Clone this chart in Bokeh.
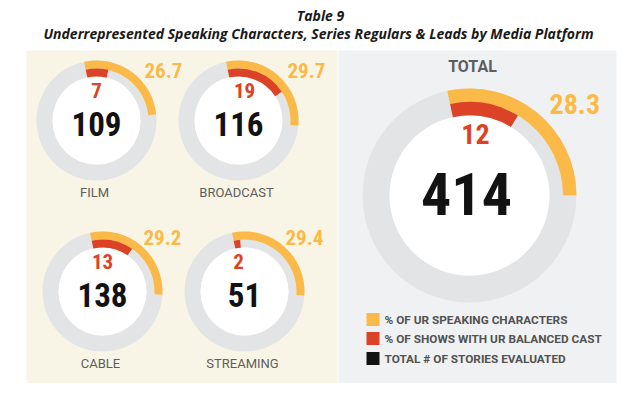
from bokeh.plotting import figure
from bokeh.models import Range1d
from bokeh.core.properties import value
from bokeh.embed import file_html
from bokeh.resources import INLINE

# ---- data ----
platforms = ["FILM", "BROADCAST", "CABLE", "STREAMING"]
speaking_pct = [26.7, 29.7, 29.2, 29.4]
balanced_pct = [7, 19, 13, 2]
stories = [109, 116, 138, 51]
total_label = "TOTAL"
total_speaking = 28.3
total_balanced = 12
total_stories = 414
legend_labels = ["% OF UR SPEAKING CHARACTERS", "% OF SHOWS WITH UR BALANCED CAST", "TOTAL # OF STORIES EVALUATED"]

# ---- style ----
ORANGE = "#FBBA48"
RED = "#DC4226"
BLACK = "#121212"
RING = "#E3E4E6"
BEIGE = "#F8F5E6"
PANEL = "#F0F1F3"
LABEL = "#5E5E5E"
NUM_FONT = value("'Noto Sans Condensed', 'Roboto Condensed', 'Liberation Sans Narrow', 'DejaVu Sans Condensed', 'Arial Narrow', sans-serif")
START_OFFSET = 12  # degrees counter-clockwise from 12 o'clock

W, H = 626, 383
p = figure(width=W, height=H, output_backend="svg", toolbar_location=None,
           x_range=Range1d(0, W), y_range=Range1d(0, H),
           min_border=0)
p.axis.visible = False
p.grid.visible = False
p.outline_line_color = None
p.background_fill_color = "white"
p.border_fill_color = "white"

def Y(py):
    return H - py

# panels
p.quad(left=[26], right=[337], bottom=[Y(383)], top=[Y(50)], fill_color=BEIGE, line_color=None)
p.quad(left=[338], right=[616], bottom=[Y(383)], top=[Y(50)], fill_color=PANEL, line_color=None)

def arc_angles(pct):
    span = pct * 3.6
    end = 90 + START_OFFSET
    return end - span, end

def donut(cx, cy, r_in, r_out, r_mid, spk, bal):
    x, y = cx, Y(cy)
    p.annulus(x=[x], y=[y], inner_radius=r_in, outer_radius=r_out,
              fill_color=RING, line_color=None)
    p.circle(x=[x], y=[y], radius=r_in, fill_color="white", line_color=None)
    s, e = arc_angles(spk)
    p.annular_wedge(x=[x], y=[y], inner_radius=r_mid, outer_radius=r_out, start_angle=s, end_angle=e,
                    start_angle_units="deg", end_angle_units="deg",
                    fill_color=ORANGE, line_color=None)
    s, e = arc_angles(bal)
    p.annular_wedge(x=[x], y=[y], inner_radius=r_in, outer_radius=r_mid, start_angle=s, end_angle=e,
                    start_angle_units="deg", end_angle_units="deg",
                    fill_color=RED, line_color=None)

def txt(x, y, t, size, color, font=NUM_FONT, style="bold", align="center", baseline="middle"):
    p.text(x=[x], y=[Y(y)], text=[t], text_font=font, text_font_size=f"{size}px",
           text_font_style=style, text_color=color, text_align=align, text_baseline=baseline)

# small donuts layout
cxs = [96, 238, 102, 244]
cys = [120, 120, 291, 291]
red_dx = [0, 6, 0, -6]
pct_dx = [48, 49, 41, 41]
pct_dy = [-50, -50, -54, -54]
for i in range(4):
    cx, cy = cxs[i], cys[i]
    donut(cx, cy, 44, 60, 52, speaking_pct[i], balanced_pct[i])
    txt(cx + red_dx[i], cy - 30, str(balanced_pct[i]), 21, RED)
    txt(cx, cy + 3, str(stories[i]), 33, BLACK)
    txt(cx + pct_dx[i], cy + pct_dy[i], f"{speaking_pct[i]:.1f}", 21, ORANGE, align="left")
    txt(cx - 2, cy + 72, platforms[i], 13, LABEL, font=value("Roboto"), style="normal")

# total donut
tcx, tcy = 469, 195
donut(tcx, tcy, 80, 107, 93.5, total_speaking, total_balanced)
txt(tcx + 6, tcy - 62, str(total_balanced), 28, RED)
txt(tcx - 3, tcy - 2, str(total_stories), 60, BLACK)
txt(549, tcy - 92, f"{total_speaking:.1f}", 28, ORANGE, align="left")
txt(472, 66, total_label, 16, LABEL, font=value("Roboto"))

# legend
leg_colors = [ORANGE, RED, BLACK]
leg_y = [319, 338, 358]
for c, ly, lab in zip(leg_colors, leg_y, legend_labels):
    p.rect(x=[372.5], y=[Y(ly)], width=13, height=13,
           fill_color=c, line_color=None)
    txt(384, ly, lab, 11.8, "#525252", font=value("Roboto"), align="left")

# titles
txt(320, 15, "Table 9", 14, "#1a1a1a", font=value("Open Sans"), style="bold italic")
txt(318, 33, "Underrepresented Speaking Characters, Series Regulars & Leads by Media Platform", 14,
    "#1a1a1a", font=value("Open Sans"), style="bold italic")

open("out.html", "w").write(file_html(p, INLINE))
